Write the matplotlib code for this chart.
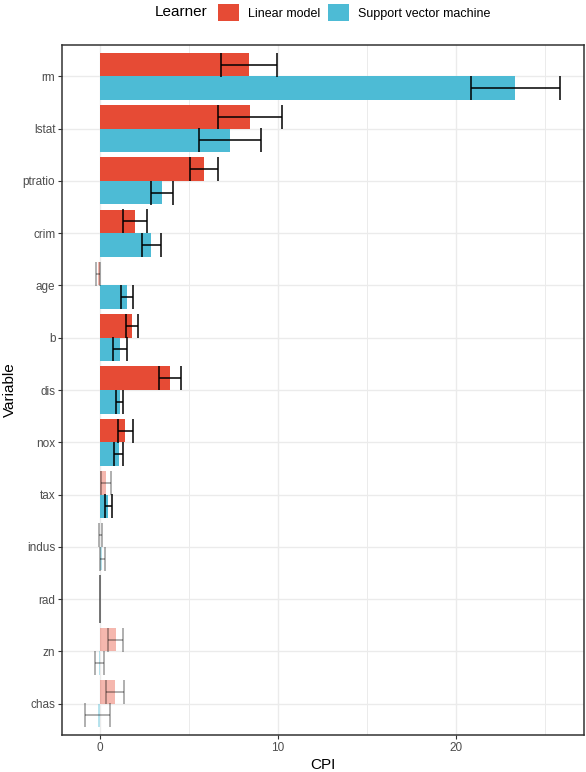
import numpy as np
import matplotlib
matplotlib.use("Agg")
import matplotlib.pyplot as plt
from matplotlib.patches import Patch
from matplotlib.ticker import MultipleLocator

plt.rcParams['font.family'] = ['Liberation Sans', 'DejaVu Sans']

# data (top to bottom)
variables = ['rm', 'lstat', 'ptratio', 'crim', 'age', 'b', 'dis', 'nox',
             'tax', 'indus', 'rad', 'zn', 'chas']
lm_cpi = [8.4, 8.46, 5.86, 2.0, -0.09, 1.82, 3.94, 1.45, 0.35, 0.05, 0.0, 0.9, 0.86]
lm_err = [1.57, 1.79, 0.78, 0.66, 0.11, 0.33, 0.63, 0.42, 0.29, 0.08, 0.0, 0.4, 0.49]
lm_sig = [True, True, True, True, False, True, True, True, False, False, False, False, False]
svm_cpi = [23.35, 7.32, 3.51, 2.91, 1.55, 1.14, 1.12, 1.08, 0.48, 0.16, 0.0, -0.01, -0.11]
svm_err = [2.49, 1.76, 0.60, 0.52, 0.32, 0.39, 0.22, 0.26, 0.19, 0.14, 0.0, 0.25, 0.72]
svm_sig = [True, True, True, True, True, True, True, True, True, False, False, False, False]

learners = ['Linear model', 'Support vector machine']
colors = ['#E64B35', '#4DBBD5']

fig = plt.figure(figsize=(5.86, 7.72), dpi=100)
ax = fig.add_axes([62/586, 1 - 735/772, (584 - 62)/586, (735 - 45)/772])

n = len(variables)
ypos = np.arange(n, 0, -1)
h = 0.45
series = [(lm_cpi, lm_err, lm_sig, h/2, colors[0]),
          (svm_cpi, svm_err, svm_sig, -h/2, colors[1])]

for vals, errs, sig, off, col in series:
    for y, v, e, s in zip(ypos, vals, errs, sig):
        a = 1.0 if s else 0.4
        ax.barh(y + off, v, height=h, color=col, alpha=a, zorder=2, linewidth=0)
        ax.errorbar(v, y + off, xerr=e, color='black', alpha=a, capsize=8.5,
                    elinewidth=1.1, capthick=1.1, zorder=3)

ax.set_xlim(-2.11, 27.2)
ax.set_ylim(0.4, n + 0.6)
ax.set_yticks(ypos)
ax.set_yticklabels(variables)
ax.xaxis.set_major_locator(MultipleLocator(10))
ax.xaxis.set_minor_locator(MultipleLocator(5))
ax.grid(which='major', color='#EBEBEB', linewidth=1.0, zorder=0)
ax.grid(which='minor', axis='x', color='#EBEBEB', linewidth=0.7, zorder=0)
ax.set_axisbelow(True)
ax.tick_params(which='major', length=2.75, width=0.8, color='#333333',
               labelsize=8.5, labelcolor='#4D4D4D', pad=2)
ax.tick_params(which='minor', length=0)
for sp in ax.spines.values():
    sp.set_color('#333333')
    sp.set_linewidth(1.1)

ax.set_xlabel('CPI', fontsize=11, labelpad=3)
ax.set_ylabel('Variable', fontsize=11, labelpad=4)

# legend on top, title to the left
fig.text(155/586, 1 - 12.5/772, 'Learner', fontsize=11, ha='left', va='center')
handles = [Patch(facecolor=c, edgecolor='none') for c in colors]
fig.legend(handles, learners, loc='center', ncol=2, frameon=False,
           bbox_to_anchor=(354/586, 1 - 12.5/772), fontsize=9, borderpad=0,
           handlelength=1.7, handleheight=1.7, handletextpad=0.7,
           columnspacing=0.65)

fig.savefig('out.png', dpi=100)
